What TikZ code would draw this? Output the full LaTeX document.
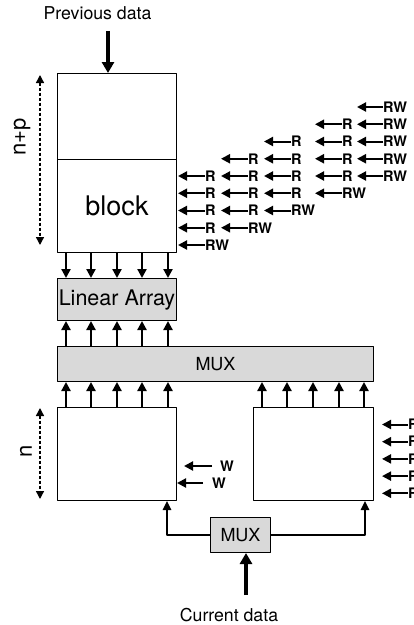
\documentclass[tikz,border=0pt]{standalone}
\usepackage{fontspec}
\setmainfont{TeX Gyre Heros}
\usetikzlibrary{arrows.meta}

\begin{document}
\begin{tikzpicture}[x=1pt, y=-1pt, line join=round,
		declare function={rowa=107; drow=17.25; rowb=424.5; drowb=17.2;},
		box/.style={draw, line width=1pt, inner sep=0pt, anchor=north west},
		greybox/.style={box, fill=black!15},
		bus/.style={line width=2.2pt, -{Triangle[width=9pt, length=9pt]}},
		port/.style={line width=2pt, -{Triangle[width=9pt, length=9pt]}},
		wire/.style={line width=1.5pt, -{Triangle[width=8.5pt, length=9pt]}},
		feed/.style={line width=3.8pt, -{Triangle[width=12pt, length=11pt]}},
		span/.style={line width=1.4pt, dash pattern=on 3pt off 2pt, {Triangle[width=8pt, length=8pt]}-{Triangle[width=8pt, length=8pt]}},
		lbl/.style={inner sep=0pt, font=\fontsize{17.7}{20}\selectfont},
		tag/.style={inner sep=0pt, anchor=west, font=\bfseries\fontsize{14.5}{16}\selectfont}]
	
	\useasboundingbox (0,0) rectangle (414,625);
	
	% memory block
	\node[box, minimum width=119pt, minimum height=86pt] (upper) at (57,73) {};
	\node[box, minimum width=119pt, minimum height=93pt, font=\fontsize{27}{30}\selectfont] (block) at (57,159) {block};
	
	\node[greybox, minimum width=119pt, minimum height=42pt, font=\fontsize{21.5}{24}\selectfont] (la) at (57,278) {Linear Array};
	
	\node[greybox, minimum width=316pt, minimum height=35pt, font=\fontsize{18}{20}\selectfont] (mux) at (57,346) {MUX};
	
	% input buffers
	\node[box, minimum width=119pt, minimum height=93pt] (bufl) at (57,407) {};
	\node[box, minimum width=120pt, minimum height=93pt] (bufr) at (253,407) {};
	
	\node[greybox, minimum width=60pt, minimum height=35pt, font=\fontsize{18}{20}\selectfont] (smux) at (210,517) {MUX};
	
	\node[lbl] (prev) at (97.5,13) {Previous data};
	\draw[feed] (prev.south -| 108,0) ++(0,11) -- (upper.north -| 108,0);
	
	\node[lbl] (cur) at (229,615) {Current data};
	\draw[feed] (cur.north -| 246,0) ++(0,-13) -- (smux.south -| 246,0);
	
	% buses
	\foreach \x in {66,91,117,142,168} {
		\draw[bus] (block.south -| \x,0) -- (la.north -| \x,0);
		\draw[bus] (mux.north -| \x,0) -- (la.south -| \x,0);
		\draw[bus] (bufl.north -| \x,0) -- (mux.south -| \x,0);
	}
	\foreach \x in {262,287,313,339,364}
		\draw[bus] (bufr.north -| \x,0) -- (mux.south -| \x,0);
	
	\draw[wire] (smux.west) -| (bufl.south -| 167,0);
	\draw[wire] (smux.east) -| (bufr.south -| 365,0);
	
	% sizes
	\draw[span] (40,75) -- (40,245);
	\node[inner sep=0pt, rotate=90, font=\fontsize{22}{24}\selectfont] (np) at (22,137) {n+p};
	\draw[span] (40,408) -- (40,499);
	\node[inner sep=0pt, rotate=90, font=\fontsize{22}{24}\selectfont] (nn) at (26,451) {n};
	
	% read / write ports of the block
	\foreach \c/\x in {1/205,2/248,3/291,4/342} {
		\foreach \k in {0,...,4} {
			\pgfmathsetmacro{\r}{6-\c+\k}
			\ifnum\k<4 \def\txt{R}\else\def\txt{RW}\fi
			\node[tag] (p-\c-\k) at (\x, {rowa+(\r-1)*drow}) {\txt};
			\draw[port] (p-\c-\k.west) -- ++(-27,0);
		}
	}
	\foreach \k in {0,...,4} {
		\node[tag] (p-5-\k) at (383, {rowa+\k*drow}) {RW};
		\draw[port] (p-5-\k.west) -- ++(-26,0);
	}
	
	% ports of the right buffer
	\foreach \k in {0,...,4} {
		\node[tag] (q-\k) at (408, {rowb+\k*drowb}) {R};
		\draw[port] (q-\k.west) -- ++(-26,0);
	}
	
	% write ports of the left buffer
	\node[tag] (w1) at (220,466) {W};
	\draw[port, shorten <=8pt] (w1.west) -- ++(-36,0);
	\node[tag] (w2) at (212,483) {W};
	\draw[port, shorten <=9pt] (w2.west) -- ++(-35,0);
	
\end{tikzpicture}
\end{document}
